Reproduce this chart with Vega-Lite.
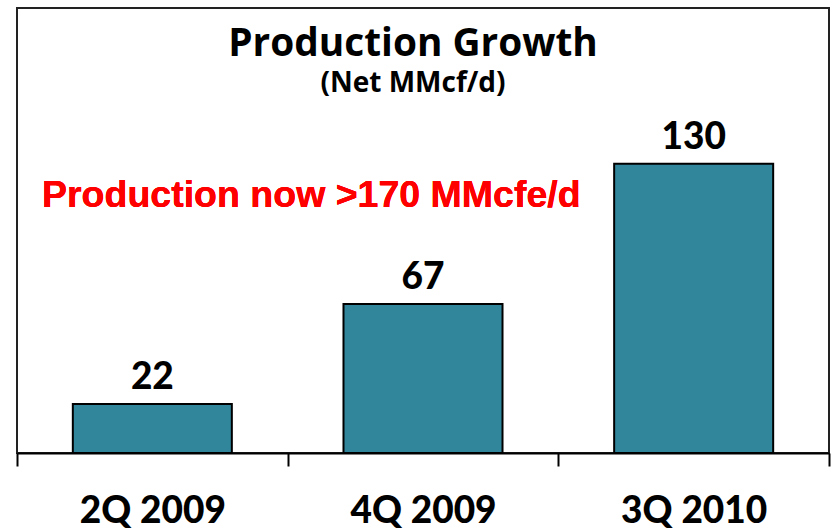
{
  "$schema": "https://vega.github.io/schema/vega-lite/v6.json",
  "width": 812,
  "height": 445,
  "autosize": "none",
  "padding": {"left": 17, "top": 8, "right": 3, "bottom": 76},
  "background": "white",
  "title": {
    "text": "Production Growth",
    "subtitle": "(Net MMcf/d)",
    "anchor": "middle",
    "frame": "group",
    "orient": "top",
    "font": "Open Sans",
    "fontSize": 38.8,
    "fontWeight": "bold",
    "color": "black",
    "subtitleFont": "Open Sans",
    "subtitleFontSize": 28,
    "subtitleFontWeight": "bold",
    "subtitleColor": "black",
    "subtitlePadding": 6.5,
    "offset": -90,
    "dx": -10
  },
  "config": {
    "view": {"stroke": "#222", "strokeWidth": 2}
  },
  "data": {
    "values": [
      {"period": "2Q 2009", "production": 22},
      {"period": "4Q 2009", "production": 67},
      {"period": "3Q 2010", "production": 130}
    ]
  },
  "encoding": {
    "x": {
      "field": "period",
      "type": "nominal",
      "sort": null,
      "scale": {"paddingInner": 0, "paddingOuter": 0},
      "axis": {
        "title": null,
        "domainColor": "black",
        "domainWidth": 2,
        "tickColor": "black",
        "tickWidth": 2,
        "tickSize": 13,
        "tickBand": "extent",
        "labelFont": "Lato",
        "labelFontSize": 37,
        "labelFontWeight": 900,
        "labelColor": "black",
        "labelPadding": 27,
        "labelAngle": 0
      }
    },
    "y": {
      "field": "production",
      "type": "quantitative",
      "scale": {"domain": [0, 200]},
      "axis": null
    }
  },
  "layer": [
    {
      "mark": {"type": "bar", "color": "#32869c", "stroke": "black", "strokeWidth": 2, "width": {"band": 0.5875}}
    },
    {
      "mark": {
        "type": "text",
        "font": "Lato",
        "fontSize": 37,
        "fontWeight": 900,
        "color": "black",
        "baseline": "alphabetic",
        "dy": -15
      },
      "encoding": {"text": {"field": "production", "type": "quantitative"}}
    },
    {
      "mark": {
        "type": "text",
        "font": "Liberation Sans",
        "fontSize": 37.5,
        "fontWeight": "bold",
        "color": "#ff0000",
        "align": "left",
        "baseline": "alphabetic",
        "dx": 25
      },
      "encoding": {
        "x": {"datum": "2Q 2009", "bandPosition": 0},
        "y": {"datum": 110.6},
        "text": {"value": "Production now >170 MMcfe/d"}
      }
    }
  ]
}
